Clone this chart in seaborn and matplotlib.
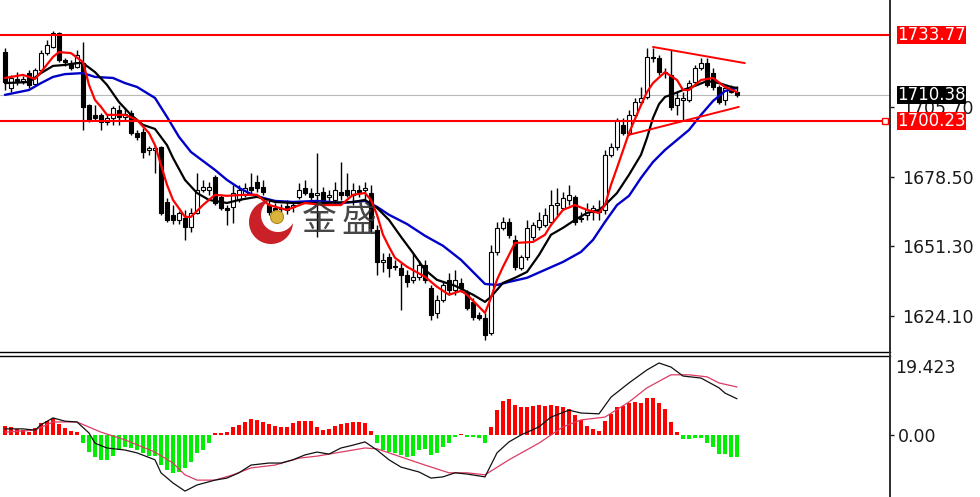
import numpy as np
import matplotlib
matplotlib.use("Agg")
import matplotlib.pyplot as plt
import seaborn as sns
from matplotlib.patches import Circle, Polygon

# ---- candles ----
opens = [1727.1, 1713.1, 1716.6, 1715.8, 1718.9, 1714.6, 1720.1, 1726.7, 1729.1, 1734.5,
         1724.0, 1722.8, 1721.3, 1722.8, 1706.4, 1702.6, 1702.6, 1699.8, 1701.4, 1704.5,
         1701.8, 1703.3, 1695.5, 1695.9, 1688.9, 1688.9, 1690.1, 1668.6, 1663.6, 1661.6,
         1662.4, 1658.9, 1664.3, 1673.3, 1673.3, 1678.4, 1670.6, 1666.3, 1666.7, 1669.4,
         1671.4, 1674.5, 1676.4, 1674.5, 1667.4, 1666.3, 1666.3, 1667.1, 1666.7, 1670.6,
         1674.1, 1672.1, 1671.4, 1672.5, 1670.6, 1669.4, 1672.5, 1673.3, 1671.4, 1673.3,
         1673.3, 1672.1, 1657.7, 1645.2, 1647.2, 1643.7, 1642.9, 1640.1, 1638.2, 1639.4,
         1644.0, 1635.1, 1625.3, 1630.4, 1638.2, 1634.3, 1637.0, 1633.5, 1629.6, 1624.6,
         1623.4, 1617.5, 1649.1, 1658.5, 1660.8, 1653.8, 1642.9, 1647.2, 1654.9, 1658.9,
         1659.6, 1660.8, 1667.4, 1666.3, 1669.4, 1670.6, 1662.4, 1663.6, 1664.7, 1665.5,
         1665.5, 1687.0, 1690.1, 1698.7, 1695.5, 1702.6, 1707.6, 1709.6, 1725.2, 1724.8,
         1719.3, 1718.2, 1706.4, 1708.4, 1708.4, 1715.4, 1720.9, 1722.8, 1718.9, 1713.5,
         1708.4, 1713.1, 1711.5]
highs = [1728.7, 1718.2, 1719.3, 1717.8, 1720.1, 1720.9, 1727.9, 1731.8, 1735.3, 1734.9,
         1724.8, 1724.0, 1727.9, 1731.0, 1706.8, 1706.4, 1703.3, 1702.6, 1706.1, 1706.4,
         1705.3, 1704.5, 1696.7, 1697.5, 1690.5, 1690.8, 1690.5, 1670.2, 1667.4, 1665.0,
         1665.5, 1666.3, 1679.9, 1677.2, 1676.4, 1679.2, 1671.4, 1667.4, 1675.3, 1675.3,
         1676.0, 1679.9, 1679.2, 1677.2, 1669.4, 1668.2, 1667.8, 1669.4, 1668.2, 1676.0,
         1677.2, 1674.1, 1687.7, 1674.5, 1673.3, 1676.4, 1684.2, 1679.9, 1676.0, 1675.3,
         1676.4, 1675.3, 1659.6, 1648.7, 1648.7, 1646.0, 1644.8, 1642.1, 1648.7, 1646.0,
         1646.0, 1636.2, 1632.4, 1637.4, 1640.9, 1642.1, 1639.0, 1634.3, 1631.2, 1625.7,
         1625.3, 1651.9, 1660.8, 1662.8, 1662.4, 1655.8, 1647.9, 1661.6, 1660.8, 1664.7,
         1666.3, 1673.3, 1674.1, 1672.5, 1675.3, 1671.4, 1664.7, 1668.2, 1667.4, 1669.4,
         1688.9, 1691.6, 1701.4, 1701.4, 1704.5, 1709.2, 1713.5, 1728.7, 1728.7, 1726.0,
         1720.9, 1727.9, 1711.5, 1711.5, 1716.2, 1722.1, 1724.8, 1724.8, 1720.9, 1714.3,
         1713.9, 1714.3, 1713.9]
lows = [1712.3, 1711.5, 1714.3, 1714.6, 1713.1, 1713.9, 1719.3, 1726.0, 1728.7, 1723.2,
        1721.7, 1720.1, 1720.9, 1696.7, 1699.8, 1700.6, 1696.7, 1698.7, 1698.7, 1698.7,
        1700.6, 1694.8, 1692.8, 1685.8, 1687.0, 1679.9, 1663.6, 1660.8, 1660.0, 1660.0,
        1653.8, 1656.9, 1663.9, 1672.5, 1671.4, 1667.4, 1665.5, 1659.6, 1660.4, 1668.6,
        1670.6, 1672.1, 1672.5, 1671.4, 1663.6, 1663.9, 1664.7, 1663.9, 1664.7, 1669.8,
        1671.4, 1669.4, 1655.0, 1667.4, 1668.2, 1667.4, 1669.4, 1670.6, 1667.4, 1670.6,
        1669.4, 1656.9, 1640.1, 1641.3, 1639.4, 1642.1, 1626.5, 1635.5, 1637.0, 1638.2,
        1637.0, 1622.6, 1623.4, 1629.6, 1632.4, 1632.4, 1633.5, 1626.5, 1622.6, 1622.6,
        1614.8, 1616.8, 1647.9, 1657.7, 1654.6, 1642.1, 1642.1, 1646.0, 1653.8, 1657.7,
        1658.9, 1660.0, 1663.6, 1665.5, 1667.4, 1659.6, 1660.8, 1661.6, 1661.6, 1661.6,
        1663.9, 1686.2, 1688.9, 1694.8, 1694.8, 1701.8, 1706.8, 1708.8, 1723.2, 1718.2,
        1717.0, 1704.5, 1702.6, 1700.6, 1707.6, 1714.6, 1720.1, 1713.5, 1712.3, 1706.8,
        1706.4, 1711.1, 1709.6]
closes = [1715.4, 1717.0, 1715.8, 1716.6, 1714.3, 1720.1, 1726.7, 1729.9, 1734.5, 1724.0,
          1723.2, 1720.9, 1726.0, 1705.7, 1700.6, 1701.4, 1699.8, 1701.4, 1705.3, 1701.8,
          1703.0, 1695.5, 1694.0, 1688.1, 1689.7, 1689.7, 1664.3, 1661.6, 1661.6, 1664.3,
          1658.9, 1664.3, 1673.3, 1674.5, 1674.5, 1668.2, 1666.3, 1665.5, 1672.1, 1673.3,
          1674.1, 1673.3, 1674.1, 1672.5, 1664.7, 1664.7, 1665.9, 1665.5, 1667.4, 1673.3,
          1672.1, 1670.6, 1672.1, 1669.4, 1671.4, 1673.3, 1671.4, 1671.4, 1673.3, 1672.5,
          1674.1, 1658.5, 1645.2, 1646.0, 1642.9, 1643.3, 1640.1, 1637.4, 1639.4, 1644.0,
          1638.2, 1624.6, 1630.4, 1636.2, 1634.3, 1638.2, 1635.1, 1627.3, 1623.8, 1623.4,
          1616.8, 1649.1, 1658.5, 1660.8, 1655.8, 1643.3, 1647.2, 1658.5, 1659.6, 1661.6,
          1663.6, 1667.4, 1668.2, 1670.2, 1671.4, 1660.8, 1662.0, 1665.5, 1666.3, 1664.7,
          1687.0, 1690.1, 1700.6, 1695.5, 1702.6, 1707.6, 1709.2, 1725.2, 1724.8, 1719.3,
          1718.9, 1705.7, 1709.2, 1709.2, 1715.0, 1720.9, 1722.8, 1714.3, 1713.5, 1707.6,
          1713.1, 1711.5, 1710.38]

# ---- moving averages ----
ma_fast_idx = [0, 3, 5, 6, 8, 9, 11, 13, 14, 15, 16, 17, 20, 22, 24, 25, 26, 27, 28, 30,
               31, 33, 35, 37, 40, 42, 44, 47, 50, 53, 56, 58, 60, 61, 62, 63, 64, 65, 67,
               70, 72, 74, 76, 77, 79, 80, 81, 82, 83, 84, 85, 88, 90, 91, 93, 95, 97, 99,
               100, 101, 102, 104, 106, 107, 108, 110, 112, 113, 114, 116, 118, 120, 122]
ma_fast = [1717.0, 1718.2, 1716.6, 1719.3, 1725.2, 1727.1, 1726.7, 1723.2, 1714.3, 1708.4,
           1705.7, 1702.6, 1702.6, 1700.6, 1695.5, 1690.8, 1683.1, 1675.3, 1669.4, 1662.8,
           1662.8, 1667.4, 1671.4, 1671.0, 1671.4, 1671.4, 1667.4, 1665.5, 1668.2, 1667.4,
           1667.4, 1671.4, 1672.1, 1669.4, 1663.6, 1655.8, 1651.1, 1646.8, 1643.3, 1639.4,
           1635.5, 1632.4, 1633.9, 1632.4, 1627.7, 1625.3, 1631.2, 1638.2, 1643.3, 1647.9,
           1652.6, 1653.0, 1655.8, 1659.6, 1665.5, 1667.4, 1665.5, 1664.3, 1667.4, 1675.3,
           1681.9, 1695.5, 1706.4, 1711.5, 1715.0, 1719.3, 1716.2, 1712.3, 1712.3, 1716.2,
           1717.0, 1713.5, 1711.5]
ma_mid_idx = [0, 4, 6, 8, 10, 12, 13, 15, 17, 19, 21, 23, 25, 27, 28, 30, 32, 34, 37, 39,
              42, 45, 48, 53, 58, 60, 62, 64, 66, 68, 70, 72, 75, 78, 80, 81, 83, 85, 87,
              89, 91, 93, 95, 97, 99, 100, 102, 104, 106, 107, 108, 109, 110, 111, 113, 115,
              117, 119, 121, 122]
ma_mid = [1715.0, 1715.4, 1718.9, 1721.7, 1722.1, 1722.8, 1722.8, 1719.3, 1714.3, 1707.6,
          1702.6, 1698.7, 1697.1, 1690.8, 1685.8, 1677.2, 1672.1, 1669.4, 1668.2, 1669.4,
          1670.6, 1668.6, 1668.2, 1668.2, 1668.6, 1669.4, 1666.3, 1661.6, 1655.0, 1648.7,
          1642.1, 1638.2, 1635.9, 1632.4, 1629.6, 1631.6, 1637.0, 1639.0, 1641.3, 1647.9,
          1655.8, 1658.5, 1661.6, 1664.3, 1665.5, 1667.4, 1672.1, 1679.2, 1687.0, 1693.6,
          1701.4, 1706.8, 1709.6, 1710.4, 1712.3, 1713.9, 1715.8, 1715.0, 1713.5, 1713.1]
ma_slow_idx = [0, 4, 6, 8, 10, 13, 15, 18, 20, 22, 25, 27, 29, 31, 33, 35, 37, 39, 41, 43,
               45, 48, 52, 56, 60, 62, 64, 67, 70, 73, 76, 78, 80, 82, 84, 87, 90, 93, 96,
               98, 100, 102, 104, 106, 108, 110, 112, 114, 116, 118, 120, 122]
ma_slow = [1710.4, 1712.3, 1715.0, 1717.4, 1718.5, 1718.9, 1717.4, 1717.0, 1715.0, 1713.5,
           1709.2, 1701.8, 1694.0, 1688.1, 1684.6, 1681.1, 1677.2, 1674.1, 1671.7, 1670.2,
           1669.0, 1668.6, 1669.0, 1668.2, 1669.0, 1666.7, 1663.6, 1660.0, 1655.4, 1651.5,
           1646.0, 1641.3, 1636.6, 1636.2, 1637.4, 1639.0, 1642.1, 1645.2, 1649.1, 1653.8,
           1660.8, 1667.4, 1671.0, 1678.0, 1684.2, 1688.9, 1692.8, 1696.7, 1702.6, 1708.0,
           1711.9, 1713.1]

# ---- levels and drawn objects ----
resistance = 1733.77
support = 1700.23
last_price = 1710.38
price_ticks = [1705.70, 1678.50, 1651.30, 1624.10]
tri_upper_idx = [108, 123.3]
tri_upper = [1729.1, 1722.8]
tri_lower_idx = [103.8, 122.3]
tri_lower = [1694.7, 1705.7]

# ---- MACD panel ----
macd_hist = [2.2, 1.9, 1.4, 1.2, 0.8, 1.6, 2.9, 3.5, 4.1, 2.7,
             1.6, 1.1, 0.8, -2.0, -4.1, -5.3, -6.1, -6.1, -5.2, -3.7,
             -2.9, -3.3, -3.7, -4.5, -5.2, -5.2, -7.4, -8.6, -9.3, -9.0,
             -8.2, -6.6, -4.5, -3.7, -2.0, 0.4, 0.4, 0.8, 1.9, 2.5,
             3.3, 3.9, 3.7, 3.3, 2.7, 2.2, 1.9, 2.0, 2.9, 3.4,
             3.4, 3.4, 2.0, 1.2, 1.4, 2.2, 2.7, 3.0, 3.3, 3.1,
             2.9, 1.1, -2.0, -3.7, -4.1, -4.5, -4.9, -5.3, -5.2, -3.7,
             -3.5, -4.9, -4.5, -2.9, -2.0, -0.6, 0.2, -0.6, -0.6, -0.8,
             -2.0, 2.0, 6.1, 8.4, 8.9, 7.4, 6.8, 6.8, 7.1, 7.4,
             7.1, 7.4, 7.1, 7.0, 6.3, 4.9, 3.7, 2.2, 1.4, 1.0,
             3.4, 5.1, 7.0, 7.1, 7.8, 8.0, 7.8, 9.2, 9.2, 7.8,
             6.3, 3.3, 0.8, -1.1, -1.1, -0.8, -0.8, -2.0, -3.0, -4.7,
             -4.7, -5.3, -5.5]
dif_idx = [0, 3, 5, 6, 8, 10, 12, 14, 15, 17, 20, 22, 25, 26, 28, 30, 32, 35, 37, 39,
           41, 44, 46, 48, 50, 52, 54, 56, 58, 60, 62, 64, 66, 69, 71, 73, 75, 77, 80,
           82, 84, 86, 89, 91, 94, 96, 99, 101, 104, 107, 109, 111, 113, 116, 119, 120, 122]
dif = [1.5, 1.5, 1.2, 2.5, 4.2, 3.4, 3.2, 0.5, -2.0, -3.2, -3.7, -4.4, -6.1, -9.3, -11.8,
       -13.8, -12.3, -11.1, -10.6, -9.3, -7.4, -6.9, -6.9, -6.1, -4.9, -4.2, -4.7, -3.2,
       -2.5, -1.7, -3.7, -6.1, -7.9, -9.1, -10.6, -10.3, -9.3, -9.6, -10.3, -4.4, -1.7,
       0.0, 2.0, 4.4, 6.1, 5.4, 5.2, 9.3, 12.8, 16.0, 17.7, 16.7, 14.5, 14.0, 11.6, 10.3, 8.9]
dea_idx = [0, 5, 8, 12, 16, 20, 25, 28, 30, 32, 35, 38, 41, 45, 49, 52, 56, 60, 62, 66,
           70, 74, 77, 80, 84, 89, 93, 96, 100, 104, 107, 111, 114, 117, 119, 122]
dea = [0.7, 1.2, 3.2, 3.2, 0.7, -1.2, -4.2, -6.9, -9.8, -11.1, -11.1, -9.8, -8.1, -7.4,
       -5.7, -5.2, -4.2, -3.2, -3.4, -5.4, -7.4, -9.3, -9.3, -9.8, -6.1, -2.0, 2.0, 3.7,
       4.4, 8.1, 11.6, 14.8, 14.8, 14.3, 12.8, 11.8]
macd_top = 19.423


def crescent(cx, cy, R, ix, iy, r, n=720):
    t = np.linspace(0, 2 * np.pi, n, endpoint=False)
    ox, oy = cx + R * np.cos(t), cy + R * np.sin(t)
    keep = np.hypot(ox - ix, oy - iy) > r
    start = int(np.argmax(~np.roll(keep, 1) & keep))
    order = np.roll(np.arange(n), -start)
    arc = order[keep[order]]
    ta = np.arctan2(oy[arc[0]] - iy, ox[arc[0]] - ix)
    tb = np.arctan2(oy[arc[-1]] - iy, ox[arc[-1]] - ix)
    for d in ((ta - tb) % (2 * np.pi), -((tb - ta) % (2 * np.pi))):
        s = tb + np.linspace(0, d, 200)
        px, py = ix + r * np.cos(s), iy + r * np.sin(s)
        if np.hypot(px[100] - cx, py[100] - cy) < R:
            break
    return np.column_stack([np.r_[ox[arc], px], np.r_[oy[arc], py]])


sns.set_theme(style="white")
plt.rcParams["font.family"] = ["DejaVu Sans", "Noto Sans CJK SC"]

W, H = 980, 497
fig = plt.figure(figsize=(W / 100, H / 100), dpi=100)
fig.patch.set_facecolor("white")
ax = fig.add_axes([0, 1 - 352 / H, 890 / W, 352 / H])
ax2 = fig.add_axes([0, 0, 890 / W, (H - 356) / H])

xlim = (-0.83, 147.5)
for a in (ax, ax2):
    a.set_xlim(*xlim)
    a.set_xticks([])
    a.set_facecolor("white")
    for s in ("left", "top", "bottom", "right"):
        a.spines[s].set_visible(False)
ax.set_ylim(1610.04, 1747.43)
ax2.set_ylim(-15.25, macd_top)
ax.spines["bottom"].set_visible(True)
ax.spines["bottom"].set_color("black")
ax.spines["bottom"].set_linewidth(1.0)
ax2.spines["top"].set_visible(True)
ax2.spines["top"].set_color("black")
ax2.spines["top"].set_linewidth(1.0)
for a in (ax, ax2):
    a.spines["right"].set_visible(True)
    a.spines["right"].set_color("#303030")
    a.spines["right"].set_linewidth(1.3)
fig.add_artist(plt.Line2D([889.5 / W] * 2, [0, 1], color="#303030", lw=1.3))

# levels
ax.axhline(last_price, color="#b8b8b8", lw=0.8, zorder=1)
ax.axhline(resistance, color="#ff0000", lw=1.5, zorder=5)
ax.axhline(support, color="#ff0000", lw=1.5, zorder=5)
ax.plot([0.994], [support], transform=ax.get_yaxis_transform(), marker="s", ms=4,
        mfc="white", mec="#ff0000", mew=1.0, clip_on=False, zorder=6)

# candles
idx = np.arange(len(closes))
o, hi, lo, c = (np.array(v) for v in (opens, highs, lows, closes))
ax.vlines(idx, lo, hi, color="black", lw=1.0, zorder=2)
ax.bar(idx, np.maximum(np.abs(c - o), 0.25), bottom=np.minimum(o, c), width=0.7,
       color=np.where(c >= o, "white", "black"), edgecolor="black", linewidth=0.8, zorder=3)

# moving averages
sns.lineplot(x=ma_slow_idx, y=ma_slow, ax=ax, color="#0000c8", linewidth=1.7, zorder=4)
sns.lineplot(x=ma_mid_idx, y=ma_mid, ax=ax, color="black", linewidth=1.6, zorder=4)
sns.lineplot(x=ma_fast_idx, y=ma_fast, ax=ax, color="#ff0000", linewidth=1.6, zorder=4)

# triangle
ax.plot(tri_upper_idx, tri_upper, color="#ff0000", lw=1.4, zorder=5)
ax.plot(tri_lower_idx, tri_lower, color="#ff0000", lw=1.4, zorder=5)

# price axis
ax.set_ylabel("")
ax.set_xlabel("")
ax.yaxis.tick_right()
ax.set_yticks(price_ticks, labels=[f"{t:.2f}" for t in price_ticks])
ax.tick_params(axis="y", right=True, left=False, length=3, width=1, pad=6,
               labelsize=12.5, colors="#1a1a1a")


def price_tag(value, text, fc):
    ax.annotate(text, xy=(1, value), xycoords=("axes fraction", "data"), xytext=(5, 0),
                textcoords="offset points", ha="left", va="center", fontsize=12,
                color="white", annotation_clip=False, zorder=10,
                bbox=dict(boxstyle="square,pad=0.02", fc=fc, ec="none"))


price_tag(resistance, f"{resistance:.2f}", "#ff0000")
price_tag(last_price, f"{last_price:.2f}", "black")
price_tag(support, f"{support:.2f}", "#ff0000")

# MACD
hist = np.array(macd_hist)
ax2.bar(np.arange(len(hist)), hist, width=0.7,
        color=np.where(hist >= 0, "#ff0000", "#00ee00"), linewidth=0, zorder=2)
sns.lineplot(x=dea_idx, y=dea, ax=ax2, color="#dc3c64", linewidth=0.9, zorder=3)
sns.lineplot(x=dif_idx, y=dif, ax=ax2, color="#111111", linewidth=0.9, zorder=3)
ax2.set_ylabel("")
ax2.yaxis.tick_right()
ax2.set_yticks([0.0], labels=["0.00"])
ax2.tick_params(axis="y", right=True, left=False, length=3, width=1, pad=3,
                labelsize=12.5, colors="#1a1a1a")
ax2.annotate(f"{macd_top:.3f}", xy=(1, macd_top), xycoords=("axes fraction", "data"),
             xytext=(4, -2), textcoords="offset points", ha="left", va="top",
             fontsize=12.5, color="#1a1a1a", annotation_clip=False)

# watermark logo
lax = fig.add_axes([245 / W, 1 - 250 / H, 55 / W, 55 / H])
lax.set_xlim(0, 55)
lax.set_ylim(0, 55)
lax.axis("off")
lax.patch.set_alpha(0)
lax.add_patch(Polygon(crescent(26, 28, 22, 33, 35, 17), closed=True, fc="#c8141c",
                      ec="none", alpha=0.95))
lax.add_patch(Circle((32, 33), 6.5, fc="#d9b53c", ec="#b08a20", lw=0.8))
for ch, px in (("金", 319), ("盛", 359)):
    fig.text(px / W, 1 - 221 / H, ch, family=["Noto Sans CJK SC"], fontsize=25,
             color="#333333", ha="center", va="center", alpha=0.9, zorder=20)

fig.savefig("out.png", dpi=100, facecolor="white")
